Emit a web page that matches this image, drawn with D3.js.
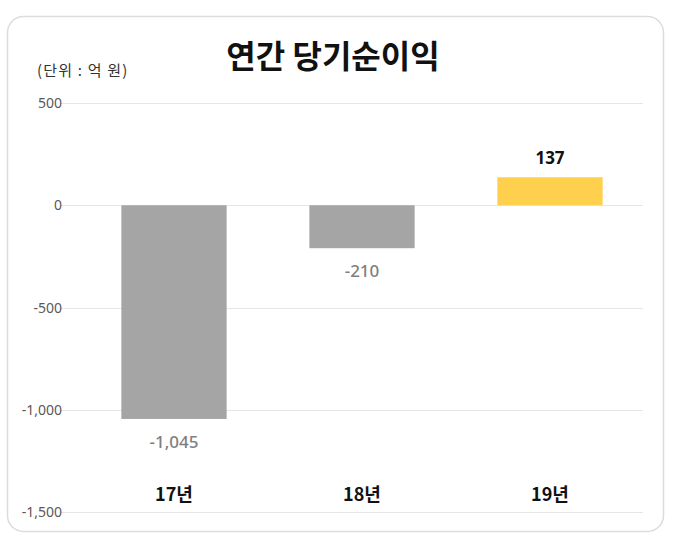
<!DOCTYPE html>
<html><head><meta charset="utf-8">
<script src="https://cdn.jsdelivr.net/npm/d3@7"></script>
<style>body{margin:0;background:#fff;}svg{display:block;font-family:"Noto Sans CJK KR","Noto Sans",sans-serif;}</style>
</head><body>
<svg id="c" width="678" height="543"></svg>
<script>
const categories = ["17년", "18년", "19년"];
const values = [-1045, -210, 137];
const valueLabels = ["-1,045", "-210", "137"];
const tickValues = [500, 0, -500, -1000, -1500];
const tickLabels = ["500", "0", "-500", "-1,000", "-1,500"];
const title = "연간 당기순이익";
const unit = "(단위 : 억 원)";

const svg = d3.select("#c");
svg.append("rect").attr("x", 7.5).attr("y", 16.5).attr("width", 656).attr("height", 515)
  .attr("rx", 16).attr("fill", "#fff").attr("stroke", "#dcdcdc").attr("stroke-width", 1.5);

const y = d3.scaleLinear().domain([-1500, 500]).range([512, 103]);
const x = d3.scaleBand().domain(categories).range([80, 644]).paddingInner(0.44).paddingOuter(0.22);

// gridlines
svg.append("g").selectAll("line").data(tickValues).join("line")
  .attr("x1", 60).attr("x2", 643)
  .attr("y1", d => Math.round(y(d)) + 0.5).attr("y2", d => Math.round(y(d)) + 0.5)
  .attr("stroke", "#e6e6e6").attr("stroke-width", 1);

// tick labels
svg.append("g").selectAll("text").data(tickValues).join("text")
  .attr("x", 62).attr("y", d => y(d) + 5).attr("text-anchor", "end")
  .attr("font-size", 14).attr("fill", "#595959")
  .attr("font-family", "'Noto Sans','Noto Sans CJK KR',sans-serif")
  .text((d, i) => tickLabels[i]);

// bars
svg.append("g").selectAll("rect").data(values).join("rect")
  .attr("x", (d, i) => x(categories[i]))
  .attr("width", x.bandwidth())
  .attr("y", d => y(Math.max(0, d)))
  .attr("height", d => Math.abs(y(d) - y(0)))
  .attr("fill", d => d >= 0 ? "#ffd04d" : "#a5a5a5");

// value labels
svg.append("g").selectAll("text").data(values).join("text")
  .attr("x", (d, i) => x(categories[i]) + x.bandwidth() / 2)
  .attr("y", d => d >= 0 ? y(d) - 13 : y(d) + 29)
  .attr("text-anchor", "middle")
  .attr("font-size", 17)
  .attr("font-weight", d => d >= 0 ? "bold" : 500)
  .attr("fill", d => d >= 0 ? "#111" : "#7f7f7f")
  .attr("font-family", "'Noto Sans','Noto Sans CJK KR',sans-serif")
  .text((d, i) => valueLabels[i]);

// category labels
svg.append("g").selectAll("text").data(categories).join("text")
  .attr("x", d => x(d) + x.bandwidth() / 2)
  .attr("y", 501)
  .attr("text-anchor", "middle")
  .attr("font-size", 18).attr("font-weight", "bold").attr("fill", "#111")
  .text(d => d);

svg.append("text").attr("x", 333).attr("y", 68).attr("text-anchor", "middle")
  .attr("font-size", 32).attr("font-weight", "bold").attr("fill", "#111").text(title);
svg.append("text").attr("x", 37).attr("y", 76).attr("font-size", 15).attr("letter-spacing", 1.2)
  .attr("fill", "#333").text(unit);
</script>
</body></html>
